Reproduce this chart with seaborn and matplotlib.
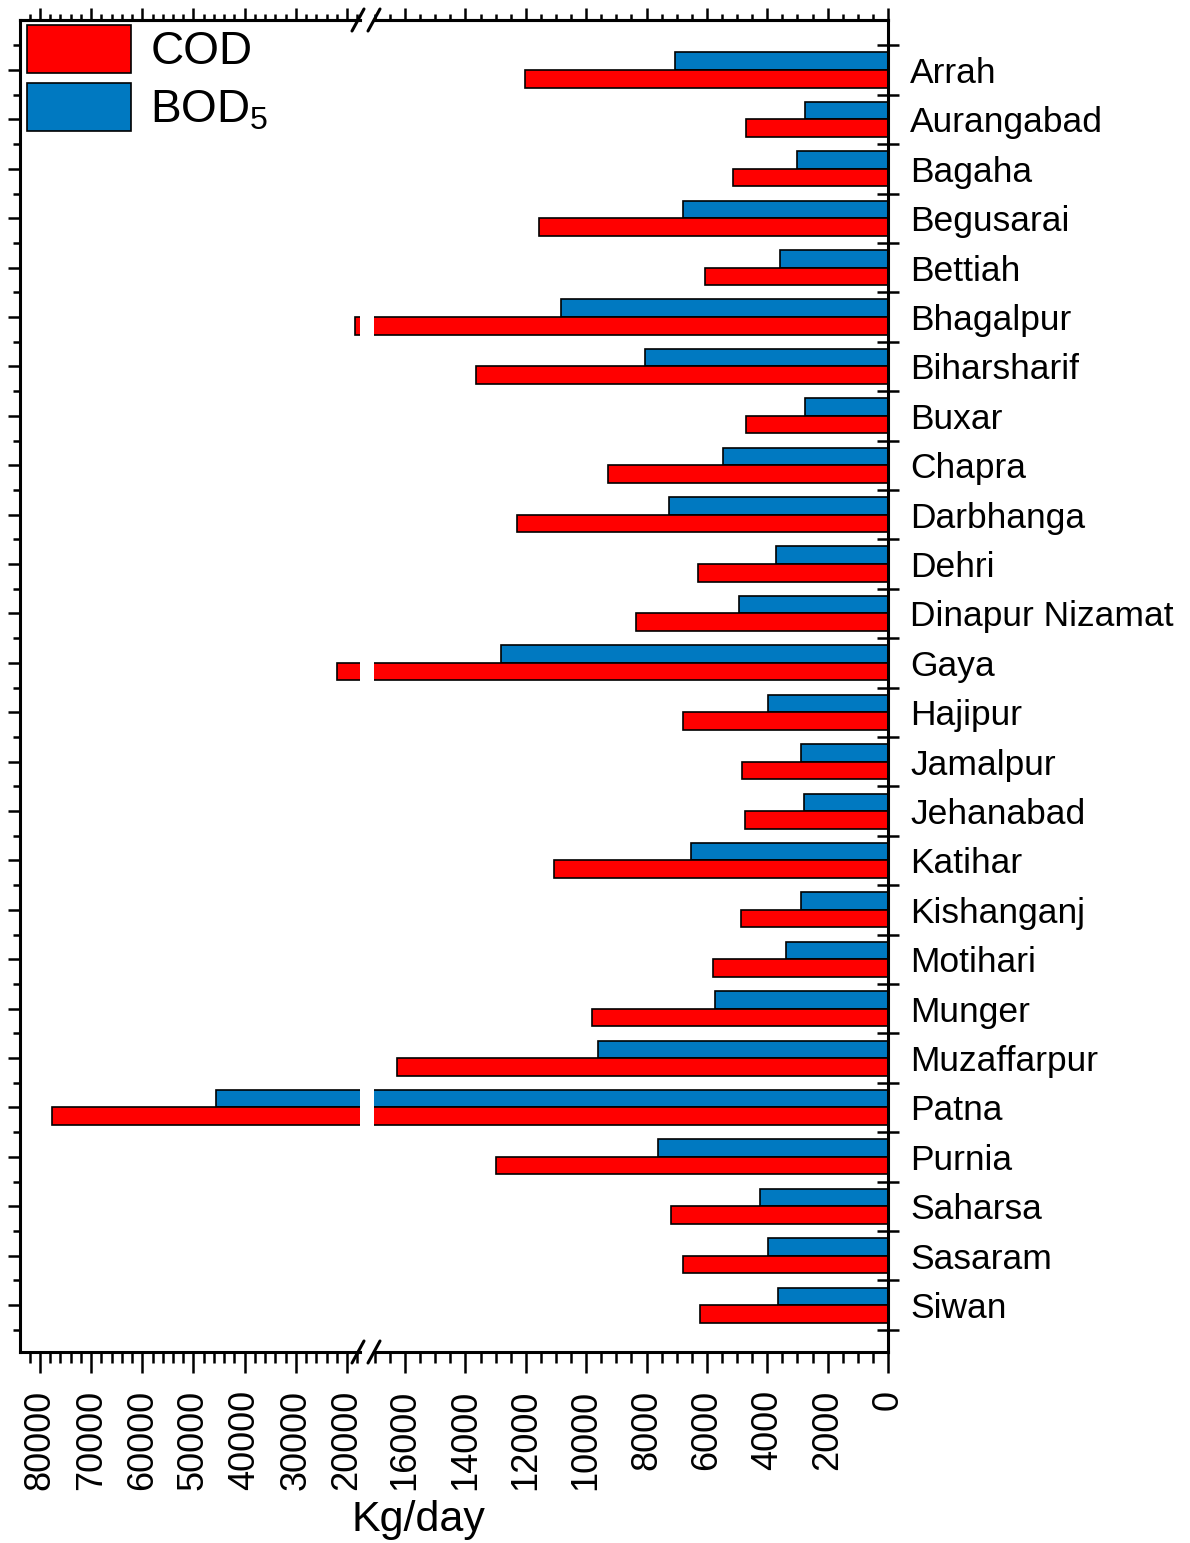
import matplotlib
matplotlib.use('Agg')
import matplotlib.pyplot as plt
import seaborn as sns
import numpy as np
import pandas as pd
from matplotlib.ticker import FixedLocator
from matplotlib.lines import Line2D
from matplotlib.patches import Patch

cities = ["Arrah", "Aurangabad", "Bagaha", "Begusarai", "Bettiah", "Bhagalpur",
          "Biharsharif", "Buxar", "Chapra", "Darbhanga", "Dehri", "Dinapur Nizamat",
          "Gaya", "Hajipur", "Jamalpur", "Jehanabad", "Katihar", "Kishanganj",
          "Motihari", "Munger", "Muzaffarpur", "Patna", "Purnia", "Saharsa",
          "Sasaram", "Siwan"]
bod5 = [7050, 2750, 3010, 6790, 3580, 10830, 8050, 2750, 5460, 7250, 3710, 4930,
        12810, 3970, 2880, 2780, 6520, 2880, 3380, 5730, 9600, 45600, 7620, 4240,
        3970, 3640]
cod = [12020, 4700, 5130, 11560, 6060, 18450, 13640, 4700, 9270, 12280, 6290, 8340,
       21950, 6790, 4830, 4740, 11060, 4870, 5790, 9800, 16260, 77650, 12980, 7190,
       6790, 6230]
left_major = [20000, 30000, 40000, 50000, 60000, 70000, 80000]
right_major = [0, 2000, 4000, 6000, 8000, 10000, 12000, 14000, 16000]

RED = "#FF0000"
BLUE = "#0079C1"

sns.set_style('ticks')
plt.rcParams['font.family'] = ['Liberation Sans', 'DejaVu Sans']
plt.rcParams['mathtext.fontset'] = 'custom'
plt.rcParams['mathtext.rm'] = 'Liberation Sans'
plt.rcParams['mathtext.it'] = 'Liberation Sans:italic'
for k in ('text.color', 'xtick.color', 'ytick.color', 'axes.labelcolor', 'axes.edgecolor'):
    plt.rcParams[k] = 'black'

W, H = 1190, 1543
fig = plt.figure(figsize=(W / 100, H / 100), dpi=100)


def fx(x):
    return x / W


def fy(y):
    return 1 - y / H


top, bot = 20, 1352
axL = fig.add_axes([fx(20), fy(bot), (360 - 20) / W, (bot - top) / H])
axR = fig.add_axes([fx(374), fy(bot), (888 - 374) / W, (bot - top) / H])

n = len(cities)
df = pd.DataFrame({
    'city': cities * 2,
    'param': ['BOD5'] * n + ['COD'] * n,
    'value': bod5 + cod,
})

for ax in (axL, axR):
    sns.barplot(data=df, x='value', y='city', hue='param', hue_order=['BOD5', 'COD'],
                order=cities, palette={'BOD5': BLUE, 'COD': RED}, orient='h',
                width=0.71, saturation=1, edgecolor='black', linewidth=1.2,
                errorbar=None, legend=False, ax=ax)
    ax.set_ylim(25.95, -1.012)
    ax.set_xlabel('')
    ax.set_ylabel('')
    for s in ax.spines.values():
        s.set_linewidth(2.2)
        s.set_color('black')

axL.set_xlim(83900, 17460)
axR.set_xlim(17030, 0)
axL.spines['right'].set_visible(False)
axR.spines['left'].set_visible(False)

# x ticks
axL.xaxis.set_major_locator(FixedLocator(left_major))
axL.xaxis.set_minor_locator(FixedLocator(np.arange(18000, 84000, 2000)))
axR.xaxis.set_major_locator(FixedLocator(right_major))
axR.xaxis.set_minor_locator(FixedLocator(np.arange(0, 17001, 500)))
for ax, maj in ((axL, left_major), (axR, right_major)):
    ax.set_xticklabels([str(v) for v in maj], rotation=90, fontsize=26)
    ax.tick_params(axis='x', which='major', direction='out', length=15, width=1.8,
                   pad=12, bottom=True, top=False, colors='black')
    ax.tick_params(axis='x', which='minor', direction='out', length=8, width=1.8,
                   bottom=True, top=False)
    sec = ax.secondary_xaxis('top')
    sec.xaxis.set_major_locator(FixedLocator(maj))
    sec.xaxis.set_minor_locator(ax.xaxis.get_minor_locator())
    sec.tick_params(axis='x', which='major', direction='out', length=8.5, width=1.8,
                    labeltop=False)
    sec.tick_params(axis='x', which='minor', direction='out', length=4.3, width=1.8)
    sec.spines['top'].set_linewidth(2.2)

# y ticks
boundaries = np.arange(-0.5, n, 1.0)
axL.yaxis.set_minor_locator(FixedLocator(boundaries))
axL.tick_params(axis='y', which='major', direction='out', length=9, width=1.8,
                left=True, right=False, labelleft=False)
axL.tick_params(axis='y', which='minor', direction='out', length=5, width=1.8,
                left=True, right=False)

axR.yaxis.tick_right()
axR.yaxis.set_minor_locator(FixedLocator(boundaries))
axR.tick_params(axis='y', which='major', length=0, pad=16, labelsize=25.5,
                right=True, left=False, labelright=True, labelleft=False)
axR.tick_params(axis='y', which='minor', direction='inout', length=16.5, width=1.8,
                right=True, left=False)

# legend
handles = [Patch(facecolor=RED, edgecolor='black', linewidth=1.2),
           Patch(facecolor=BLUE, edgecolor='black', linewidth=1.2)]
fs = 33
leg = axL.legend(handles, ['COD', r'BOD$_{\mathregular{5}}$'], loc='upper left',
                 bbox_to_anchor=(fx(27), fy(25)), bbox_transform=fig.transFigure,
                 frameon=False, fontsize=fs, handlelength=2.27, handleheight=1.22,
                 handletextpad=0.42, labelspacing=0.2, borderpad=0, borderaxespad=0)

# x label
fig.text(fx(418), fy(1520), 'Kg/day', ha='center', va='center', fontsize=31)

# break marks
for yy in (top, bot):
    for x0 in (352, 368):
        fig.add_artist(Line2D([fx(x0), fx(x0 + 12)], [fy(yy + 11), fy(yy - 11)],
                              color='black', lw=2.2, transform=fig.transFigure))

fig.savefig('out.png', dpi=100)
